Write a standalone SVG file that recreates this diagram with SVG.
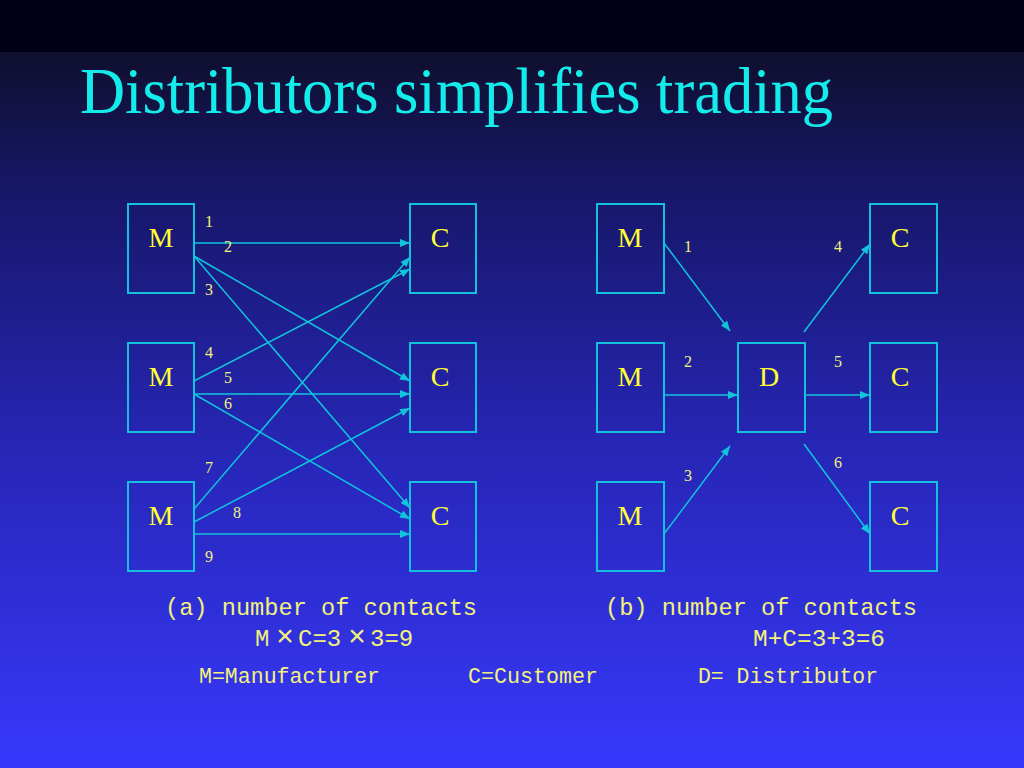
<svg xmlns="http://www.w3.org/2000/svg" width="1024" height="768" viewBox="0 0 1024 768">
  <defs>
    <linearGradient id="bg" x1="0" y1="52" x2="0" y2="768" gradientUnits="userSpaceOnUse">
      <stop offset="0" stop-color="#0f0f2e"/>
      <stop offset="0.2" stop-color="#17176a"/>
      <stop offset="0.55" stop-color="#2626b6"/>
      <stop offset="1" stop-color="#3838fc"/>
    </linearGradient>
    <marker id="ah" viewBox="0 0 10 8" refX="10" refY="4" markerWidth="10" markerHeight="8" orient="auto" markerUnits="userSpaceOnUse">
      <path d="M0,0 L10,4 L0,8 z" fill="#10c4dc"/>
    </marker>
    <style>
      .box { fill: none; stroke: #12c2dc; stroke-width: 2; }
      .lbl { font-family: "Liberation Serif", "Times New Roman", serif; font-size: 28px; fill: #ffff33; text-anchor: middle; }
      .num { font-family: "Liberation Serif", "Times New Roman", serif; font-size: 16px; fill: #f2f27a; text-anchor: middle; }
      .cap { font-family: "Liberation Mono", "Courier New", monospace; fill: #f2f27a; }
      .conn line { stroke: #10c4dc; stroke-width: 1.5; marker-end: url(#ah); }
    </style>
  </defs>

  <rect x="0" y="0" width="1024" height="768" fill="url(#bg)"/>
  <rect x="0" y="0" width="1024" height="52" fill="#000016"/>

  <text x="80" y="113" font-family="Liberation Serif, 'Times New Roman', serif" font-size="65" fill="#14ecec" textLength="753" lengthAdjust="spacingAndGlyphs">Distributors simplifies trading</text>

  <!-- Left diagram nodes -->
  <g id="a-m1"><rect class="box" x="128" y="204" width="66" height="89"/><text class="lbl" x="161" y="247">M</text></g>
  <g id="a-m2"><rect class="box" x="128" y="343" width="66" height="89"/><text class="lbl" x="161" y="386">M</text></g>
  <g id="a-m3"><rect class="box" x="128" y="482" width="66" height="89"/><text class="lbl" x="161" y="525">M</text></g>
  <g id="a-c1"><rect class="box" x="410" y="204" width="66" height="89"/><text class="lbl" x="440" y="247">C</text></g>
  <g id="a-c2"><rect class="box" x="410" y="343" width="66" height="89"/><text class="lbl" x="440" y="386">C</text></g>
  <g id="a-c3"><rect class="box" x="410" y="482" width="66" height="89"/><text class="lbl" x="440" y="525">C</text></g>

  <!-- Right diagram nodes -->
  <g id="b-m1"><rect class="box" x="597" y="204" width="67" height="89"/><text class="lbl" x="630" y="247">M</text></g>
  <g id="b-m2"><rect class="box" x="597" y="343" width="67" height="89"/><text class="lbl" x="630" y="386">M</text></g>
  <g id="b-m3"><rect class="box" x="597" y="482" width="67" height="89"/><text class="lbl" x="630" y="525">M</text></g>
  <g id="b-d"><rect class="box" x="738" y="343" width="67" height="89"/><text class="lbl" x="769" y="386">D</text></g>
  <g id="b-c1"><rect class="box" x="870" y="204" width="67" height="89"/><text class="lbl" x="900" y="247">C</text></g>
  <g id="b-c2"><rect class="box" x="870" y="343" width="67" height="89"/><text class="lbl" x="900" y="386">C</text></g>
  <g id="b-c3"><rect class="box" x="870" y="482" width="67" height="89"/><text class="lbl" x="900" y="525">C</text></g>

  <!-- Connectors -->
  <g id="connectors" class="conn">
    <line x1="194" y1="243" x2="410" y2="243"/>
    <line x1="194" y1="256" x2="410" y2="381"/>
    <line x1="194" y1="256" x2="410" y2="508"/>
    <line x1="194" y1="381" x2="410" y2="269"/>
    <line x1="194" y1="394" x2="410" y2="394"/>
    <line x1="194" y1="394" x2="410" y2="519"/>
    <line x1="194" y1="509" x2="410" y2="257"/>
    <line x1="194" y1="522" x2="410" y2="408"/>
    <line x1="194" y1="534" x2="410" y2="534"/>

    <line x1="664" y1="243" x2="730" y2="331"/>
    <line x1="664" y1="395" x2="738" y2="395"/>
    <line x1="664" y1="534" x2="730" y2="446"/>
    <line x1="804" y1="332" x2="870" y2="244"/>
    <line x1="805" y1="395" x2="870" y2="395"/>
    <line x1="804" y1="444" x2="870" y2="534"/>
  </g>

  <!-- Connector labels -->
  <g id="labels-a">
    <text class="num" x="209" y="227">1</text>
    <text class="num" x="228" y="252">2</text>
    <text class="num" x="209" y="295">3</text>
    <text class="num" x="209" y="358">4</text>
    <text class="num" x="228" y="383">5</text>
    <text class="num" x="228" y="409">6</text>
    <text class="num" x="209" y="473">7</text>
    <text class="num" x="237" y="518">8</text>
    <text class="num" x="209" y="562">9</text>
  </g>
  <g id="labels-b">
    <text class="num" x="688" y="252">1</text>
    <text class="num" x="688" y="367">2</text>
    <text class="num" x="688" y="481">3</text>
    <text class="num" x="838" y="252">4</text>
    <text class="num" x="838" y="367">5</text>
    <text class="num" x="838" y="468">6</text>
  </g>

  <!-- Captions -->
  <g id="captions">
    <text class="cap" x="165" y="615" font-size="24" textLength="312" lengthAdjust="spacingAndGlyphs">(a) number of contacts</text>
    <text class="cap" x="605" y="615" font-size="24" textLength="312" lengthAdjust="spacingAndGlyphs">(b) number of contacts</text>
    <text class="cap" y="646" font-size="24"><tspan x="255">M</tspan><tspan x="276" font-size="30">×</tspan><tspan x="298">C=3</tspan><tspan x="348" font-size="30">×</tspan><tspan x="370">3=9</tspan></text>
    <text class="cap" x="753" y="646" font-size="24" textLength="132" lengthAdjust="spacingAndGlyphs">M+C=3+3=6</text>
    <text class="cap" x="199" y="683" font-size="22" textLength="181" lengthAdjust="spacingAndGlyphs">M=Manufacturer</text>
    <text class="cap" x="468" y="683" font-size="22" textLength="130" lengthAdjust="spacingAndGlyphs">C=Customer</text>
    <text class="cap" x="698" y="683" font-size="22" textLength="180" lengthAdjust="spacingAndGlyphs">D= Distributor</text>
  </g>
</svg>
